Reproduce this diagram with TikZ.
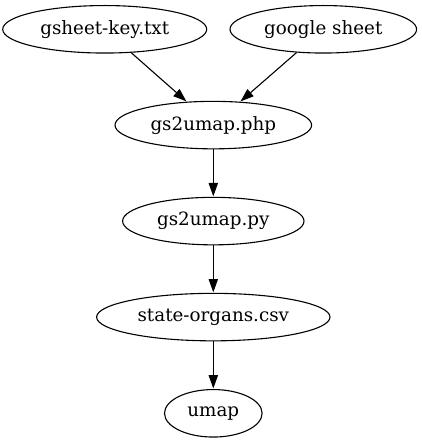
\documentclass[tikz,border=0pt]{standalone}
\usepackage{fontspec}
\setmainfont{DejaVu Serif}
\usetikzlibrary{shapes.geometric,arrows.meta}
\begin{document}
\begin{tikzpicture}[x=1pt,y=-1pt,
  gnode/.style={draw, ellipse, line width=1.1pt, inner sep=0pt, minimum height=47.5pt, font=\fontsize{18.3}{22}\selectfont},
  edge/.style={line width=1.1pt, -{Triangle[length=13.3pt,width=9.3pt]}, shorten >=0.5pt}]
\useasboundingbox (0,0) rectangle (421,443);
\node[gnode, minimum width=204pt] (key) at (104.7,29.3) {gsheet-key.txt};
\node[gnode, minimum width=186.6pt] (gs) at (323.3,29.3) {google sheet};
\node[gnode, minimum width=196.6pt] (php) at (213.3,125.1) {gs2umap.php};
\node[gnode, minimum width=181.4pt] (py) at (213.3,221.1) {gs2umap.py};
\node[gnode, minimum width=233.4pt] (csv) at (213.3,317.1) {state-organs.csv};
\node[gnode, minimum width=97.6pt] (umap) at (213.3,413.3) {umap};
\draw[edge] (key) -- (php);
\draw[edge] (gs) -- (php);
\draw[edge] (php) -- (py);
\draw[edge] (py) -- (csv);
\draw[edge] (csv) -- (umap);
\end{tikzpicture}
\end{document}
